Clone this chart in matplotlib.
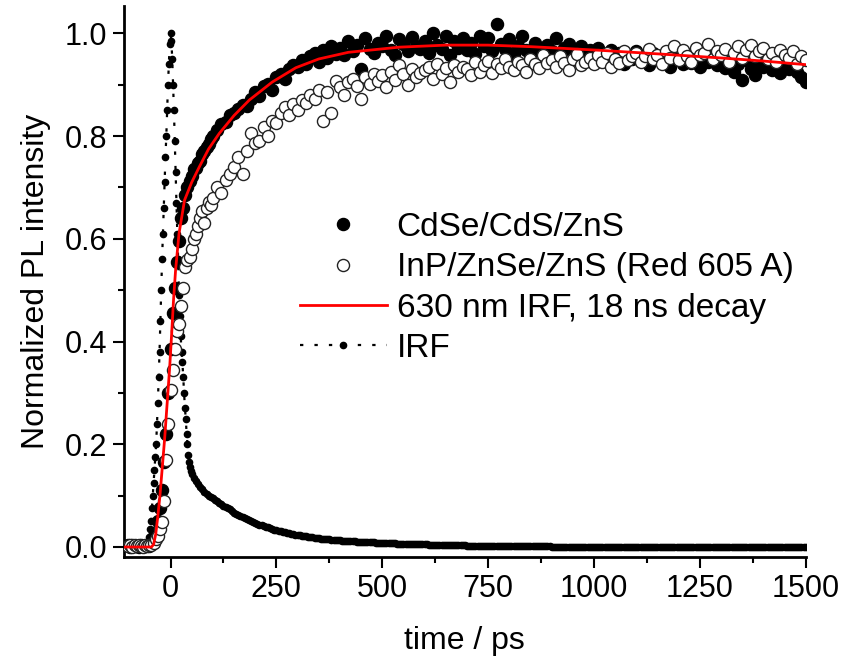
import numpy as np
import matplotlib
matplotlib.use("Agg")
import matplotlib.pyplot as plt
from matplotlib.ticker import MultipleLocator

plt.rcParams['font.family'] = ['Liberation Sans', 'DejaVu Sans']

# time grid of the PL traces (ps)
pl_t = list(range(-100, 100, 5)) + list(range(100, 1501, 10))

# CdSe/CdS/ZnS (filled)
cdse = [
    0.003, 0.000, 0.004, 0.001, 0.002, 0.000, 0.003, 0.002, 0.001, 0.004,
    0.002, 0.005, 0.012, 0.030, 0.050, 0.075, 0.110, 0.165, 0.220, 0.300,
    0.385, 0.455, 0.505, 0.555, 0.595, 0.640, 0.660, 0.685, 0.700, 0.712,
    0.722, 0.735, 0.738, 0.748, 0.752, 0.765, 0.770, 0.778, 0.785, 0.795,
    0.800, 0.812, 0.823, 0.828, 0.840, 0.845, 0.852, 0.861, 0.858, 0.873,
    0.885, 0.878, 0.897, 0.902, 0.890, 0.915, 0.921, 0.912, 0.930, 0.938,
    0.935, 0.948, 0.940, 0.955, 0.962, 0.945, 0.968, 0.952, 0.975, 0.960,
    0.972, 0.958, 0.985, 0.966, 0.978, 0.931, 0.990, 0.970, 0.962, 0.982,
    0.975, 0.995, 0.968, 0.958, 0.988, 0.980, 0.965, 0.992, 0.975, 0.970,
    0.985, 0.962, 1.000, 0.978, 0.970, 0.995, 0.958, 0.985, 0.972, 0.990,
    0.968, 0.982, 0.960, 0.995, 0.975, 0.990, 0.965, 1.018, 0.980, 0.970,
    0.988, 0.960, 0.975, 0.995, 0.968, 0.955, 0.982, 0.970, 0.962, 0.978,
    0.965, 0.990, 0.958, 0.972, 0.980, 0.962, 0.948, 0.975, 0.958, 0.968,
    0.955, 0.972, 0.960, 0.945, 0.968, 0.952, 0.962, 0.940, 0.958, 0.950,
    0.965, 0.948, 0.955, 0.938, 0.962, 0.950, 0.945, 0.958, 0.935, 0.952,
    0.948, 0.940, 0.960, 0.942, 0.955, 0.935, 0.950, 0.945, 0.962, 0.938,
    0.950, 0.932, 0.945, 0.925, 0.940, 0.910, 0.948, 0.930, 0.918, 0.942,
    0.935, 0.945, 0.928, 0.940, 0.922, 0.938, 0.930, 0.942, 0.925, 0.915,
    0.905,
]

# InP/ZnSe/ZnS (open)
inp = [
    0.002, 0.004, 0.000, 0.003, 0.001, 0.004, 0.002, 0.000, 0.003, 0.001,
    0.004, 0.003, 0.008, 0.015, 0.022, 0.035, 0.048, 0.090, 0.170, 0.240,
    0.305, 0.345, 0.385, 0.420, 0.435, 0.470, 0.505, 0.545, 0.558, 0.565,
    0.580, 0.600, 0.610, 0.625, 0.640, 0.655, 0.630, 0.660, 0.672, 0.665,
    0.680, 0.700, 0.690, 0.715, 0.727, 0.740, 0.760, 0.727, 0.770, 0.805,
    0.786, 0.790, 0.818, 0.800, 0.830, 0.825, 0.845, 0.857, 0.840, 0.862,
    0.850, 0.870, 0.865, 0.880, 0.872, 0.889, 0.830, 0.885, 0.844, 0.908,
    0.895, 0.880, 0.905, 0.912, 0.898, 0.873, 0.915, 0.902, 0.920, 0.908,
    0.918, 0.896, 0.925, 0.910, 0.938, 0.920, 0.899, 0.930, 0.915, 0.922,
    0.928, 0.935, 0.912, 0.940, 0.920, 0.932, 0.905, 0.938, 0.925, 0.935,
    0.930, 0.918, 0.945, 0.925, 0.938, 0.947, 0.922, 0.940, 0.932, 0.950,
    0.935, 0.928, 0.945, 0.938, 0.925, 0.950, 0.940, 0.932, 0.958, 0.942,
    0.948, 0.935, 0.955, 0.942, 0.928, 0.950, 0.960, 0.938, 0.945, 0.952,
    0.940, 0.958, 0.945, 0.962, 0.935, 0.950, 0.942, 0.965, 0.948, 0.955,
    0.962, 0.945, 0.955, 0.970, 0.950, 0.958, 0.940, 0.965, 0.952, 0.975,
    0.948, 0.968, 0.955, 0.945, 0.972, 0.958, 0.962, 0.980, 0.950, 0.965,
    0.958, 0.970, 0.945, 0.962, 0.975, 0.952, 0.968, 0.978, 0.955, 0.965,
    0.972, 0.950, 0.962, 0.945, 0.968, 0.958, 0.952, 0.965, 0.940, 0.955,
    0.948,
]

# fit: 630 nm IRF convolved with 18 ns decay
fit_t = [-110, -45, -40, -35, -30, -25, -20, -14, -8, -2, 3, 7, 12, 20, 33,
         50, 68, 90, 115, 150, 186, 240, 296, 350, 420, 540, 650, 750, 850,
         1012, 1150, 1300, 1400, 1500]
fit_v = [0.0, 0.0, 0.005, 0.025, 0.06, 0.10, 0.15, 0.21, 0.28, 0.35, 0.42,
         0.48, 0.54, 0.61, 0.675, 0.71, 0.74, 0.775, 0.805, 0.84, 0.87,
         0.905, 0.933, 0.95, 0.963, 0.973, 0.977, 0.977, 0.974, 0.967,
         0.960, 0.952, 0.946, 0.939]

# instrument response function
irf_t = (list(range(-100, -54, 5)) + list(range(-52, 50, 2))
         + list(range(50, 1501, 5)))
irf_v = [
    0.002, 0.001, 0.002, 0.001, 0.001, 0.002, 0.001, 0.002, 0.003, 0.005,
    0.010, 0.020, 0.035, 0.050, 0.075, 0.100, 0.125, 0.150, 0.175, 0.200,
    0.240, 0.280, 0.330, 0.380, 0.440, 0.500, 0.560, 0.610, 0.660, 0.710,
    0.760, 0.800, 0.850, 0.900, 0.940, 0.980, 1.000,
    0.985, 0.950, 0.900, 0.850, 0.790, 0.730, 0.670, 0.610, 0.560, 0.490,
    0.450, 0.410, 0.380, 0.360, 0.330, 0.300, 0.270, 0.250, 0.220, 0.200,
    0.180, 0.165, 0.155, 0.148,
    # 50 .. 195 ps
    0.142, 0.135, 0.128, 0.122, 0.117, 0.112, 0.108, 0.104, 0.100, 0.097,
    0.095, 0.092, 0.089, 0.086, 0.083, 0.080, 0.078, 0.075, 0.073, 0.070,
    0.066, 0.064, 0.062, 0.060, 0.058, 0.056, 0.054, 0.052, 0.050, 0.048,
    # 200 .. 395 ps
    0.046, 0.044, 0.043, 0.042, 0.040, 0.039, 0.038, 0.036, 0.035, 0.034,
    0.033, 0.032, 0.031, 0.030, 0.029, 0.028, 0.027, 0.026, 0.025, 0.024,
    0.024, 0.023, 0.022, 0.021, 0.021, 0.020, 0.019, 0.019, 0.018, 0.017,
    0.017, 0.016, 0.016, 0.015, 0.015, 0.015, 0.014, 0.014, 0.013, 0.013,
    # 400 .. 595 ps
    0.013, 0.012, 0.012, 0.012, 0.011, 0.011, 0.011, 0.011, 0.010, 0.010,
    0.010, 0.010, 0.010, 0.009, 0.009, 0.009, 0.009, 0.008, 0.008, 0.008,
    0.008, 0.008, 0.007, 0.007, 0.007, 0.007, 0.007, 0.006, 0.006, 0.006,
    0.006, 0.006, 0.005, 0.005, 0.005, 0.005, 0.005, 0.005, 0.005, 0.005,
    # 600 .. 795 ps
    0.005, 0.005, 0.004, 0.004, 0.004, 0.004, 0.004, 0.004, 0.004, 0.004,
    0.003, 0.003, 0.003, 0.003, 0.003, 0.003, 0.003, 0.003, 0.003, 0.003,
    0.002, 0.002, 0.002, 0.002, 0.002, 0.002, 0.002, 0.002, 0.002, 0.002,
    0.002, 0.002, 0.002, 0.002, 0.002, 0.002, 0.001, 0.001, 0.001, 0.001,
    # 800 .. 895 ps
    0.001, 0.001, 0.001, 0.001, 0.001, 0.001, 0.001, 0.001, 0.001, 0.001,
    0.001, 0.001, 0.001, 0.001, 0.001, 0.001, 0.001, 0.001, 0.001, 0.001,
    # 900 .. 1500 ps
    0.000, 0.000, 0.000, 0.000, 0.000, 0.000, 0.000, 0.000, 0.000, 0.000,
    0.000, 0.000, 0.000, 0.000, 0.000, 0.000, 0.000, 0.000, 0.000, 0.000,
    0.000, 0.000, 0.000, 0.000, 0.000, 0.000, 0.000, 0.000, 0.000, 0.000,
    0.000, 0.000, 0.000, 0.000, 0.000, 0.000, 0.000, 0.000, 0.000, 0.000,
    0.000, 0.000, 0.000, 0.000, 0.000, 0.000, 0.000, 0.000, 0.000, 0.000,
    0.000, 0.000, 0.000, 0.000, 0.000, 0.000, 0.000, 0.000, 0.000, 0.000,
    0.000, 0.000, 0.000, 0.000, 0.000, 0.000, 0.000, 0.000, 0.000, 0.000,
    0.000, 0.000, 0.000, 0.000, 0.000, 0.000, 0.000, 0.000, 0.000, 0.000,
    0.000, 0.000, 0.000, 0.000, 0.000, 0.000, 0.000, 0.000, 0.000, 0.000,
    0.000, 0.000, 0.000, 0.000, 0.000, 0.000, 0.000, 0.000, 0.000, 0.000,
    0.000, 0.000, 0.000, 0.000, 0.000, 0.000, 0.000, 0.000, 0.000, 0.000,
    0.000, 0.000, 0.000, 0.000, 0.000, 0.000, 0.000, 0.000, 0.000, 0.000,
    0.000,
]

labels = ["CdSe/CdS/ZnS", "InP/ZnSe/ZnS (Red 605 A)",
          "630 nm IRF, 18 ns decay", "IRF"]

fig = plt.figure(figsize=(8.41, 6.62), dpi=100)
ax = fig.add_axes([0.1474, 0.1586, 0.8106, 0.833])

l_irf, = ax.plot(irf_t, irf_v, linestyle=(0, (1.5, 5)), lw=1.6,
                 color='black', marker='o', markersize=4.5, zorder=2)
l_cd, = ax.plot(pl_t, cdse, linestyle='none', marker='o', markersize=8.7,
                color='black', zorder=3)
l_inp, = ax.plot(pl_t, inp, linestyle='none', marker='o', markersize=8.7,
                 markerfacecolor='white', markeredgecolor='#222222',
                 markeredgewidth=1.0, zorder=4)
l_fit, = ax.plot(fit_t, fit_v, color='#ff0000', lw=2, zorder=5)

ax.set_xlim(-110, 1500)
ax.set_ylim(-0.0195, 1.054)
ax.xaxis.set_major_locator(MultipleLocator(250))
ax.xaxis.set_minor_locator(MultipleLocator(125))
ax.yaxis.set_major_locator(MultipleLocator(0.2))
ax.yaxis.set_minor_locator(MultipleLocator(0.1))
ax.yaxis.set_major_formatter(plt.FuncFormatter(lambda v, p: f"{v:.1f}"))

for s in ['top', 'right']:
    ax.spines[s].set_visible(False)
for s in ['left', 'bottom']:
    ax.spines[s].set_linewidth(2)
ax.tick_params(which='major', direction='out', length=8, width=1.5,
               labelsize=22, pad=4)
ax.tick_params(which='minor', direction='out', length=4.5, width=1.5)

ax.set_xlabel("time / ps", fontsize=23, labelpad=16)
ax.set_ylabel("Normalized PL intensity", fontsize=23, labelpad=10)

leg = ax.legend([l_cd, l_inp, l_fit, l_irf], labels, loc='upper left',
                bbox_to_anchor=(300 / 841, 1 - 212 / 662),
                bbox_transform=fig.transFigure, frameon=False, fontsize=24,
                numpoints=1, handlelength=2.6, handletextpad=0.3,
                labelspacing=0.28, borderpad=0, borderaxespad=0)

fig.savefig("out.png", dpi=100)
